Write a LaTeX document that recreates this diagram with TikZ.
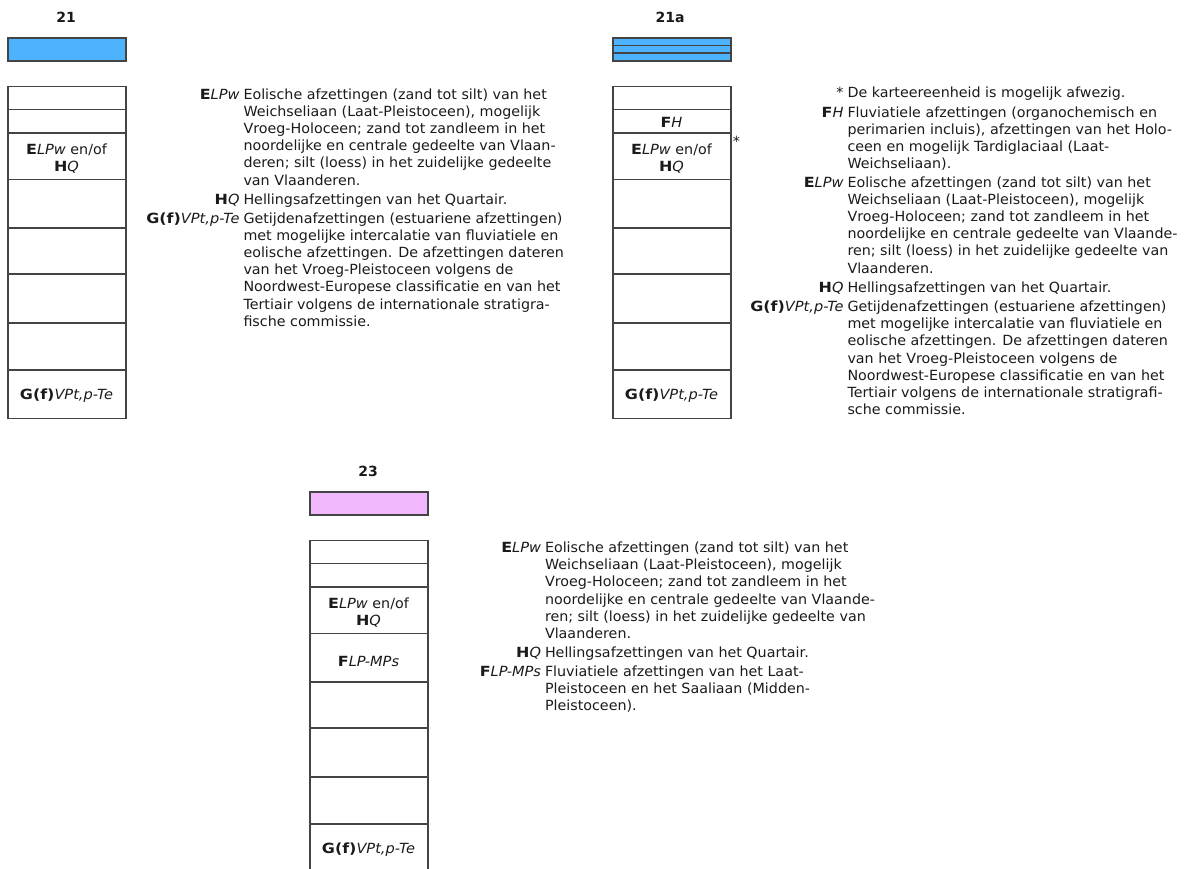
\documentclass[tikz,border=0pt]{standalone}
\usepackage{fontspec}
\usetikzlibrary{calc}
\setmainfont{DejaVu Sans}[FakeStretch=1.02,BoldFeatures={FakeStretch=1.14},ItalicFeatures={FakeStretch=1.04}]
\newfontfamily\headfont{DejaVu Sans}
\definecolor{swblue}{HTML}{4DB3FF}
\definecolor{swpink}{HTML}{F2B8FD}
\definecolor{edge}{HTML}{444444}
\definecolor{ink}{HTML}{1A1A1A}
\newcommand{\lb}[2]{\textbf{#1}\textit{#2}}
\newcommand{\lines}[1]{\begin{tabular}[t]{@{}l@{}}#1\end{tabular}}
\tikzset{
  base text/.style={font=\fontsize{14}{17.2}\selectfont, text=ink, inner sep=0pt, outer sep=0pt},
  heading/.style={base text, font=\fontsize{14}{17.2}\headfont\bfseries, anchor=base},
  celltext/.style={base text, anchor=base},
  keylabel/.style={base text, anchor=base east},
  keybody/.style={base text, anchor=base west},
  cellbox/.style={draw=edge, line width=1.1pt, minimum width=118pt, inner sep=0pt, outer sep=0pt, anchor=north west},
  swatch/.style={cellbox, minimum height=23pt},
  band/.style={edge, line width=1.1pt}
}
% \entry{name}{body-x}{baseline}{label}{lines}
\newcommand{\entry}[5]{%
  \node[keylabel] (#1l) at (#2-4,#3) {#4};
  \node[keybody] (#1b) at (#2,#3) {\lines{#5}};
}
% \stratcolumn{prefix}{x}{y of top of cells}
\newcommand{\stratcolumn}[3]{%
  \node[cellbox, minimum height=23pt] (#1a) at (#2,#3) {};
  \node[cellbox, minimum height=23.5pt] (#1b) at (#2,#3+23) {};
  \node[cellbox, minimum height=46.5pt] (#1c) at (#2,#3+46.5) {};
  \node[cellbox, minimum height=48.5pt] (#1d) at (#2,#3+93) {};
  \node[cellbox, minimum height=46pt] (#1e) at (#2,#3+141.5) {};
  \node[cellbox, minimum height=49pt] (#1f) at (#2,#3+187.5) {};
  \node[cellbox, minimum height=47pt] (#1g) at (#2,#3+236.5) {};
  \node[cellbox, minimum height=48.5pt] (#1h) at (#2,#3+283.5) {};
  \node[celltext] (#1t) at (#2+58.5,#3+68) {\lb{E}{LPw} en/of};
  \node[celltext] (#1u) at (#2+58.5,#3+85) {\lb{H}{Q}};
  \node[celltext] (#1v) at (#2+58.5,#3+313) {\lb{G(f)}{VPt,p-Te}};
}
\begin{document}
\begin{tikzpicture}[x=1pt,y=-1pt]
\useasboundingbox (0,0) rectangle (1184,868);
\clip (0,0) rectangle (1184,868);

% column 21
\node[heading] (h21) at (66,22) {21};
\node[swatch, fill=swblue] (s21) at (8,38) {};
\stratcolumn{p}{8}{86.5}

% column 21a
\node[heading] (h21a) at (670,22) {21a};
\node[swatch, fill=swblue] (s21a) at (613,38) {};
\coordinate (s21aL1) at ($(s21a.north west)!0.32!(s21a.south west)$);
\coordinate (s21aR1) at ($(s21a.north east)!0.32!(s21a.south east)$);
\coordinate (s21aL2) at ($(s21a.north west)!0.65!(s21a.south west)$);
\coordinate (s21aR2) at ($(s21a.north east)!0.65!(s21a.south east)$);
\draw[band] (s21aL1) -- (s21aR1);
\draw[band] (s21aL2) -- (s21aR2);
\stratcolumn{q}{613}{86.5}
\node[celltext] (qfh) at (671.5,127.5) {\lb{F}{H}};
\node[celltext] (qstar) at (736.5,146) {*};

% column 23
\node[heading] (h23) at (368,476) {23};
\node[swatch, fill=swpink] (s23) at (310,492) {};
\stratcolumn{r}{310}{540.5}
\node[celltext] (rflp) at (368.5,666) {\lb{F}{LP-MPs}};

% key 21
\entry{a1}{243.5}{99}{\lb{E}{LPw}}{Eolische afzettingen (zand tot silt) van het\\Weichseliaan (Laat-Pleistoceen), mogelijk\\Vroeg-Holoceen; zand tot zandleem in het\\noordelijke en centrale gedeelte van Vlaan-\\deren; silt (loess) in het zuidelijke gedeelte\\van Vlaanderen.}
\entry{a2}{243.5}{204}{\lb{H}{Q}}{Hellingsafzettingen van het Quartair.}
\entry{a3}{243.5}{223}{\lb{G(f)}{VPt,p-Te}}{Getijdenafzettingen (estuariene afzettingen)\\met mogelijke intercalatie van fluviatiele en\\eolische afzettingen. De afzettingen dateren\\van het Vroeg-Pleistoceen volgens de\\Noordwest-Europese classificatie en van het\\Tertiair volgens de internationale stratigra-\\fische commissie.}

% key 21a
\entry{b0}{847.5}{97.5}{*}{De karteereenheid is mogelijk afwezig.}
\entry{b1}{847.5}{117}{\lb{F}{H}}{Fluviatiele afzettingen (organochemisch en\\perimarien incluis), afzettingen van het Holo-\\ceen en mogelijk Tardiglaciaal (Laat-\\Weichseliaan).}
\entry{b2}{847.5}{187}{\lb{E}{LPw}}{Eolische afzettingen (zand tot silt) van het\\Weichseliaan (Laat-Pleistoceen), mogelijk\\Vroeg-Holoceen; zand tot zandleem in het\\noordelijke en centrale gedeelte van Vlaande-\\ren; silt (loess) in het zuidelijke gedeelte van\\Vlaanderen.}
\entry{b3}{847.5}{292}{\lb{H}{Q}}{Hellingsafzettingen van het Quartair.}
\entry{b4}{847.5}{311.5}{\lb{G(f)}{VPt,p-Te}}{Getijdenafzettingen (estuariene afzettingen)\\met mogelijke intercalatie van fluviatiele en\\eolische afzettingen. De afzettingen dateren\\van het Vroeg-Pleistoceen volgens de\\Noordwest-Europese classificatie en van het\\Tertiair volgens de internationale stratigrafi-\\sche commissie.}

% key 23
\entry{c1}{545}{552.5}{\lb{E}{LPw}}{Eolische afzettingen (zand tot silt) van het\\Weichseliaan (Laat-Pleistoceen), mogelijk\\Vroeg-Holoceen; zand tot zandleem in het\\noordelijke en centrale gedeelte van Vlaande-\\ren; silt (loess) in het zuidelijke gedeelte van\\Vlaanderen.}
\entry{c2}{545}{657}{\lb{H}{Q}}{Hellingsafzettingen van het Quartair.}
\entry{c3}{545}{676.5}{\lb{F}{LP-MPs}}{Fluviatiele afzettingen van het Laat-\\Pleistoceen en het Saaliaan (Midden-\\Pleistoceen).}
\end{tikzpicture}
\end{document}
